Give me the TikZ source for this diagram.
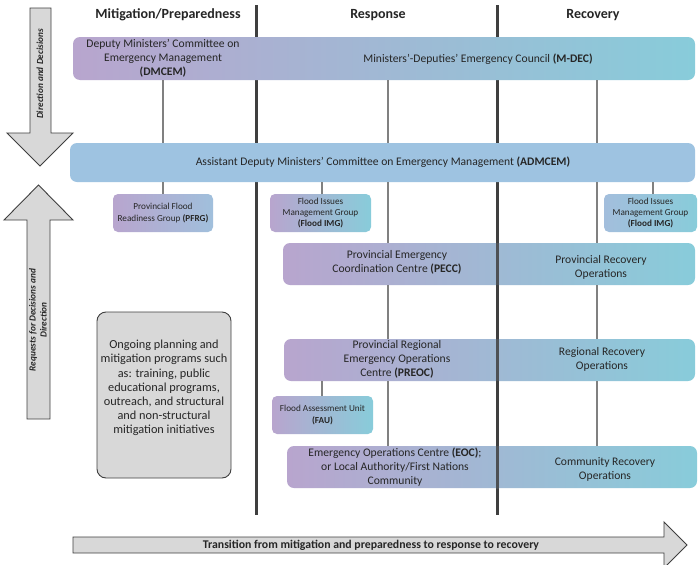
\documentclass[tikz,border=0pt]{standalone}
\usepackage{fontspec}
\setmainfont{Carlito}
\usetikzlibrary{positioning}
\definecolor{lav}{HTML}{B8A5CE}
\definecolor{sky}{HTML}{A3BEDC}
\definecolor{aqua}{HTML}{88CCDA}
\definecolor{admblue}{HTML}{9EC3E1}
\definecolor{arrowgray}{HTML}{D8D8D8}
\definecolor{darkline}{HTML}{3F3F3F}
\definecolor{linegray}{HTML}{808080}
\definecolor{txt}{HTML}{262626}
\begin{document}
\begin{tikzpicture}[x=1pt,y=-1pt,
	band/.style={rounded corners=7pt,inner sep=0pt,minimum height=42pt},
	chip/.style={rounded corners=5pt,inner sep=0pt,minimum height=38pt},
	lbl/.style={align=center,text=txt,font=\fontsize{11.6}{14}\selectfont},
	tiny/.style={align=center,text=txt,font=\fontsize{9.2}{11.2}\selectfont},
	head/.style={text=txt,font=\fontsize{14}{16}\selectfont\bfseries},
	sidetext/.style={rotate=90,align=center,text=txt,font=\fontsize{9.3}{11}\selectfont\bfseries\itshape},
	link/.style={draw=linegray,line width=1.3pt},
	divider/.style={draw=darkline,line width=3pt},
	greyarrow/.style={fill=arrowgray,draw=darkline,line width=0.9pt}]
	\useasboundingbox[fill=white] (0,0) rectangle (699,565);
	\def\xa{163}
	\def\xb{388}
	\def\xc{597}
	\def\xd{322}
	\def\xe{653}
	\coordinate (xa) at (\xa,0);
	\coordinate (xb) at (\xb,0);
	\coordinate (xc) at (\xc,0);
	\coordinate (xd) at (\xd,0);
	\coordinate (xe) at (\xe,0);
	\coordinate (div1top) at (256,5);
	\coordinate (div1bot) at (256,515);
	\coordinate (div2top) at (497,5);
	\coordinate (div2bot) at (497,515);
	\draw[greyarrow] (30,8) -- (51,8) -- (51,133) -- (73,133) -- (40,166) -- (7,133) -- (30,133) -- cycle;
	\draw[greyarrow] (38.5,185) -- (73,220) -- (50,220) -- (50,419) -- (27,419) -- (27,220) -- (4,220) -- cycle;
	\draw[greyarrow] (73,537) -- (664,537) -- (664,522) -- (687,545) -- (664,568) -- (664,553) -- (73,553) -- cycle;
	\node[sidetext] (down) at (40,74) {Direction and Decisions};
	\node[sidetext] (up) at (38,320) {Requests for Decisions and\\Direction};
	\node[text=txt,font=\fontsize{11.8}{13}\selectfont\bfseries] (trans) at (371,545) {Transition from mitigation and preparedness to response to recovery};
	\node[head] (mit) at (168,15) {Mitigation/Preparedness};
	\node[head] (resp) at (378,15) {Response};
	\node[head] (rec) at (593,15) {Recovery};
	\draw[divider] (div1top) -- (div1bot);
	\draw[divider] (div2top) -- (div2bot);
	\node[band,minimum width=622pt,minimum height=43pt,left color=lav,middle color=sky,right color=aqua] (mdec) at (384,58.5) {};
	\node[band,minimum width=625pt,minimum height=39pt,fill=admblue] (adm) at (382.5,162.5) {};
	\node[chip,minimum width=100pt,left color=lav,right color=sky!90!aqua] (pfrg) at (163,213) {};
	\node[chip,minimum width=101pt,left color=lav,right color=aqua] (imgl) at (320.5,213) {};
	\node[chip,minimum width=93pt,left color=sky,right color=aqua] (imgr) at (650.5,213) {};
	\node[band,minimum width=412pt,left color=lav,middle color=sky,right color=aqua] (pecc) at (489,264) {};
	\node[band,minimum width=411pt,left color=lav,middle color=sky,right color=aqua] (preoc) at (489.5,360) {};
	\node[chip,minimum width=101pt,left color=lav,right color=aqua] (fau) at (322.5,415) {};
	\node[band,minimum width=410pt,left color=lav,middle color=sky,right color=aqua] (eoc) at (492,467) {};
	\node[rounded corners=9pt,fill=arrowgray,draw=darkline,line width=0.9pt,minimum width=134pt,minimum height=166pt] (ongo) at (164,395) {};
	\draw[link] (mdec.south -| xa) -- (adm.north -| xa);
	\draw[link] (mdec.south -| xb) -- (adm.north -| xb);
	\draw[link] (mdec.south -| xc) -- (adm.north -| xc);
	\draw[link] (adm.south -| xa) -- (pfrg.north);
	\draw[link] (adm.south -| xd) -- (imgl.north -| xd);
	\draw[link] (adm.south -| xe) -- (imgr.north -| xe);
	\draw[link] (adm.south -| xb) -- (pecc.north -| xb);
	\draw[link] (adm.south -| xc) -- (pecc.north -| xc);
	\draw[link] (pecc.south -| xb) -- (preoc.north -| xb);
	\draw[link] (pecc.south -| xc) -- (preoc.north -| xc);
	\draw[link] (preoc.south -| xd) -- (fau.north -| xd);
	\draw[link] (preoc.south -| xb) -- (eoc.north -| xb);
	\draw[link] (preoc.south -| xc) -- (eoc.north -| xc);
	\draw[divider,opacity=0.85] (pecc.north -| div2top) -- (eoc.south -| div2top);
	\node[lbl] (dmcemT) at (163,58.5) {Deputy Ministers’ Committee on\\Emergency Management\\\textbf{(DMCEM)}};
	\node[lbl] (mdecT) at (478,59) {Ministers’-Deputies’ Emergency Council \textbf{(M-DEC)}};
	\node[lbl] (admT) at (383,162.5) {Assistant Deputy Ministers’ Committee on Emergency Management \textbf{(ADMCEM)}};
	\node[tiny] (pfrgT) at (163,213) {Provincial Flood\\Readiness Group \textbf{(PFRG)}};
	\node[tiny] (imglT) at (320.5,213) {Flood Issues\\Management Group\\\textbf{(Flood IMG)}};
	\node[tiny] (imgrT) at (650.5,213) {Flood Issues\\Management Group\\\textbf{(Flood IMG)}};
	\node[lbl] (peccT) at (397,262) {Provincial Emergency\\Coordination Centre \textbf{(PECC)}};
	\node[lbl] (provrecT) at (601,267) {Provincial Recovery\\Operations};
	\node[lbl] (preocT) at (397,359) {Provincial Regional\\Emergency Operations\\Centre \textbf{(PREOC)}};
	\node[lbl] (regrecT) at (602,359) {Regional Recovery\\Operations};
	\node[tiny] (fauT) at (322.5,415) {Flood Assessment Unit\\\textbf{(FAU)}};
	\node[lbl] (eocT) at (395,467) {Emergency Operations Centre \textbf{(EOC)};\\or Local Authority/First Nations\\Community};
	\node[lbl] (comrecT) at (605,469) {Community Recovery\\Operations};
	\node[lbl,font=\fontsize{12.3}{14.2}\selectfont] (ongoT) at (164,388) {Ongoing planning and\\mitigation programs such\\as: training, public\\educational programs,\\outreach, and structural\\and non-structural\\mitigation initiatives};
\end{tikzpicture}
\end{document}
